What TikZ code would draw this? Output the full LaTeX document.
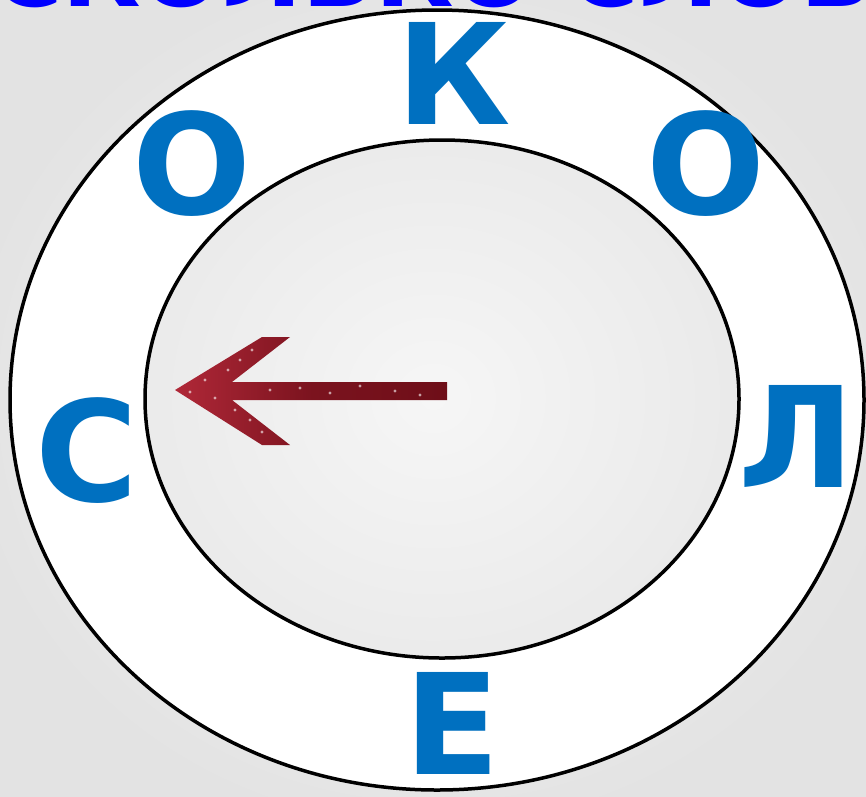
\documentclass[tikz,border=0pt]{standalone}
\usepackage{fontspec}
\newfontfamily\lettersfont{DejaVu Sans}
\usetikzlibrary{shapes.geometric}
\definecolor{letterblue}{HTML}{0070C0}
\definecolor{titleblue}{HTML}{0000FF}
\definecolor{bgin}{HTML}{F6F6F6}
\definecolor{bgout}{HTML}{E3E3E3}
\definecolor{arrowdark}{HTML}{6E0E18}
\definecolor{arrowlight}{HTML}{B02838}
\tikzset{
  ringletter/.style={inner sep=0pt, outer sep=0pt, text=letterblue,
    font=\lettersfont\bfseries\fontsize{140}{140}\selectfont},
  titletext/.style={inner sep=0pt, outer sep=0pt, text=titleblue,
    font=\lettersfont\bfseries\fontsize{96}{96}\selectfont},
  ringline/.style={line width=3.5pt, draw=black}
}
\begin{document}
\begin{tikzpicture}[x=1pt,y=-1pt]
\useasboundingbox (0,0) rectangle (866,796);
\clip (0,0) rectangle (866,796);
% background
\shade[inner color=bgin, outer color=bgout] (-40,-40) rectangle (906,836);
% title (mostly cut off at the top)
\node[titletext, anchor=base west] (title) at (-8,6) {СКОЛЬКО СЛОВ};
% white ring between the two ellipses
\fill[white, even odd rule] (437,400) ellipse [x radius=427, y radius=390]
  (442,399) ellipse [x radius=297, y radius=259];
\draw[ringline] (437,400) ellipse [x radius=427, y radius=390];
\draw[ringline] (442,399) ellipse [x radius=297, y radius=259];
\node[ringletter] (k) at (454,73) {К};
\node[ringletter] (o1) at (706,164) {О};
\node[ringletter] (l) at (797,436) {Л};
\node[ringletter] (e) at (452,723) {Е};
\node[ringletter] (c) at (87,451) {С};
\node[ringletter] (o2) at (192,164) {О};
% arrow
\shade[left color=arrowlight, right color=arrowdark, middle color=arrowdark!80!arrowlight]
  (175,390) -- (262,337) -- (290,337) -- (232,382) -- (447,382) -- (447,400)
  -- (232,400) -- (290,445) -- (262,445) -- cycle;
\foreach \px/\py in {190/392,205/380,215/398,228/370,240/360,252/350,235/410,250/420,262/432,300/388,330/393,360/386,395/391,420/395,270/390}
  \fill[white, opacity=0.6] (\px,\py) circle (1.6);
\end{tikzpicture}
\end{document}
